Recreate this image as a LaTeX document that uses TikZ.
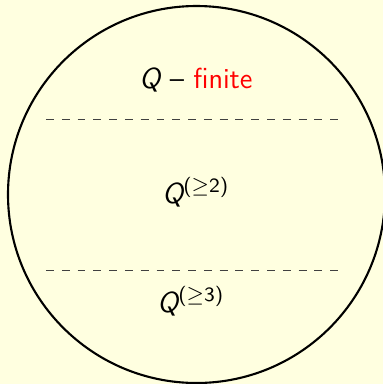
\documentclass[tikz,border=0pt]{standalone}
\usepackage{amsmath}
\usepackage{amssymb}
\usepackage{xcolor}
\usetikzlibrary{calc, positioning}
\renewcommand{\familydefault}{\sfdefault}

\definecolor{bgyellow}{RGB}{255,255,224}
% sans italic letter and sans superscript, as in the slide
\newcommand{\sQ}{{\sffamily\itshape Q}}
\newcommand{\supgeq}[1]{\textsuperscript{($\geq$#1)}}

\begin{document}
\begin{tikzpicture}[x=0.38pt,y=-0.38pt,
    label/.style={anchor=base, font=\fontsize{11}{13}\selectfont\sffamily}]
    % Background and bounding box
    \fill[bgyellow] (0,0) rectangle (383,384);
    \useasboundingbox (0,0) rectangle (383,384);

    % Draw the big circle
    \draw[line width=0.8pt] (196.5,194.5) circle (188.5);

    % Dashed separating lines
    \coordinate (L1) at (46,119.7);
    \coordinate (R1) at (341,119.7);
    \coordinate (L2) at (46,270.7);
    \coordinate (R2) at (341,270.7);
    \draw[black!75, line width=0.4pt, dash pattern=on 3pt off 3pt] (L1) -- (R1);
    \draw[black!75, line width=0.4pt, dash pattern=on 3pt off 3pt] (L2) -- (R2);

    % Labels of the three regions
    \node[label] (finite) at (196,88) {\sQ{} -- \textcolor{red}{finite}};
    \node[label] (geq2) at (196,203) {\sQ\supgeq{2}};
    \node[label] (geq3) at (191,312) {\sQ\supgeq{3}};
\end{tikzpicture}
\end{document}
